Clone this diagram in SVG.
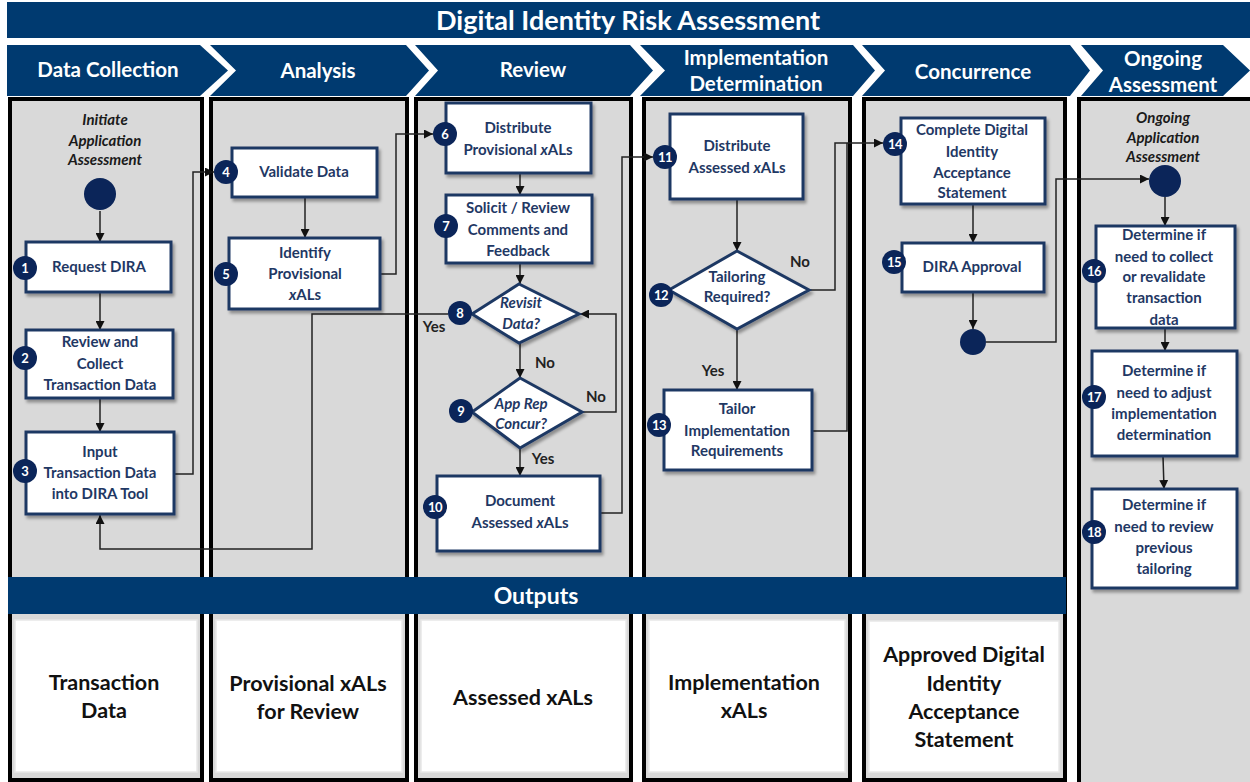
<svg xmlns="http://www.w3.org/2000/svg" width="1250" height="782" viewBox="0 0 1250 782">
<defs>
<style>
.bar{fill:#003A70}
.hd{font-family:Lato,"Liberation Sans",sans-serif;font-weight:700;fill:#fff;text-anchor:middle}
.lane{fill:#D9D9D9;stroke:#000;stroke-width:4}
.out{fill:#fff;stroke:#E8E8E8;stroke-width:1.5}
.ot{font-family:Lato,"Liberation Sans",sans-serif;font-weight:700;font-size:21.5px;fill:#111;text-anchor:middle}
.box{fill:#fff;stroke:#1F3864;stroke-width:3;filter:url(#sh)}
.nt{font-family:Lato,"Liberation Sans",sans-serif;font-weight:700;font-size:15px;fill:#1F3864;text-anchor:middle}
.it{font-style:italic}
.num{fill:#0B2559}
.nn{font-family:Lato,"Liberation Sans",sans-serif;font-weight:700;font-size:13px;fill:#fff;text-anchor:middle}
.lab{font-family:Lato,"Liberation Sans",sans-serif;font-weight:700;font-size:15px;fill:#222;text-anchor:middle}
.il{font-family:Lato,"Liberation Sans",sans-serif;font-weight:700;font-style:italic;font-size:15px;fill:#1a1a1a;text-anchor:middle}
.c{fill:none;stroke:#222;stroke-width:1.5}
.ca{fill:none;stroke:#222;stroke-width:1.5;marker-end:url(#ah)}
</style>
<filter id="sh" x="-10%" y="-10%" width="130%" height="130%">
<feDropShadow dx="2" dy="3" stdDeviation="1.5" flood-color="#000" flood-opacity="0.35"/>
</filter>
<marker id="ah" viewBox="0 0 10 10" refX="10" refY="5" markerWidth="9" markerHeight="9" markerUnits="userSpaceOnUse" orient="auto">
<path d="M0,0 L10,5 L0,10 z" fill="#111"/>
</marker>
</defs>

<!-- title -->
<rect class="bar" x="7" y="2" width="1243" height="36"/>
<text class="hd" x="628" y="30" font-size="27">Digital Identity Risk Assessment</text>

<!-- phase chevrons -->
<g id="phases">
<polygon class="bar" points="7,45 200,45 228,70.5 200,96 7,96"/>
<polygon class="bar" points="210,45 406,45 429,70.5 406,96 210,96 236,70.5"/>
<polygon class="bar" points="415,45 630,45 653,70.5 630,96 415,96 438,70.5"/>
<polygon class="bar" points="640,45 853,45 875,70.5 853,96 640,96 665,70.5"/>
<polygon class="bar" points="862,45 1070,45 1090,70.5 1070,96 862,96 885,70.5"/>
<polygon class="bar" points="1081,45 1223,45 1250,70.5 1223,96 1081,96 1103,70.5"/>
<text class="hd" x="108" y="77" font-size="20.5">Data Collection</text>
<text class="hd" x="318" y="78" font-size="20.5">Analysis</text>
<text class="hd" x="533" y="77" font-size="20.5">Review</text>
<text class="hd" x="756" y="65" font-size="20.5">Implementation</text>
<text class="hd" x="756" y="91" font-size="20.5">Determination</text>
<text class="hd" x="973" y="79" font-size="20.5">Concurrence</text>
<text class="hd" x="1163" y="66" font-size="20.5">Ongoing</text>
<text class="hd" x="1163" y="92" font-size="20.5">Assessment</text>
</g>

<!-- swimlanes -->
<g id="lanes">
<rect class="lane" x="10" y="99" width="192" height="681"/>
<rect class="lane" x="211" y="99" width="196" height="681"/>
<rect class="lane" x="416" y="99" width="215" height="681"/>
<rect class="lane" x="644" y="99" width="206" height="681"/>
<rect class="lane" x="864" y="99" width="201" height="681"/>
<path d="M1079,784 V99 H1254" fill="#D9D9D9" stroke="#000" stroke-width="4"/>
<rect x="1081" y="101" width="175" height="685" fill="#D9D9D9"/>
</g>

<!-- outputs -->
<g id="outputs">
<rect class="bar" x="8" y="577" width="1058" height="37"/>
<text class="hd" x="536" y="604" font-size="23">Outputs</text>
<rect class="out" x="15" y="620" width="182" height="152"/>
<rect class="out" x="216" y="620" width="186" height="152"/>
<rect class="out" x="421" y="620" width="205" height="152"/>
<rect class="out" x="649" y="620" width="196" height="152"/>
<rect class="out" x="869" y="621" width="190" height="151"/>
<text class="ot" x="104" y="690">Transaction</text>
<text class="ot" x="104" y="718">Data</text>
<text class="ot" x="308" y="691">Provisional xALs</text>
<text class="ot" x="308" y="719">for Review</text>
<text class="ot" x="523" y="705">Assessed xALs</text>
<text class="ot" x="744" y="690">Implementation</text>
<text class="ot" x="744" y="718">xALs</text>
<text class="ot" x="964" y="662">Approved Digital</text>
<text class="ot" x="964" y="691">Identity</text>
<text class="ot" x="964" y="719">Acceptance</text>
<text class="ot" x="964" y="747">Statement</text>
</g>

<!-- connectors -->
<g id="connectors">
<path class="ca" d="M100,211 V242"/>
<path class="ca" d="M100,292 V330"/>
<path class="ca" d="M100,398 V432"/>
<path class="ca" d="M174,474 H193 V172 H214"/>
<path class="ca" d="M305,197 V238"/>
<path class="ca" d="M380,274 H396 V134 H433"/>
<path class="ca" d="M520,173 V195"/>
<path class="ca" d="M520,263 V284"/>
<path class="ca" d="M448,314 H312 V549 H100 V515"/>
<path class="ca" d="M520,343 V378"/>
<path class="ca" d="M582,412 H616 V314 H580"/>
<path class="ca" d="M520,448 V476"/>
<path class="ca" d="M600,513 H622 V157 H653"/>
<path class="ca" d="M737,199 V251"/>
<path class="ca" d="M809,290 H835 V143 H883"/>
<path class="ca" d="M737,329 V390"/>
<path class="c" d="M812,431 H847 V143"/>
<path class="ca" d="M973,204 V243"/>
<path class="ca" d="M973,292 V329"/>
<path class="ca" d="M986,342 H1056 V179 H1149"/>
<path class="ca" d="M1165,197 V226"/>
<path class="ca" d="M1165,328 V351"/>
<path class="ca" d="M1163,456 L1164,489"/>
<text class="lab" x="434" y="332">Yes</text>
<text class="lab" x="545" y="368">No</text>
<text class="lab" x="596" y="402">No</text>
<text class="lab" x="543" y="464">Yes</text>
<text class="lab" x="800" y="267">No</text>
<text class="lab" x="713" y="376">Yes</text>
</g>

<!-- lane 1 -->
<g id="start1">
<text class="il" x="105" y="125">Initiate</text>
<text class="il" x="105" y="146">Application</text>
<text class="il" x="105" y="165">Assessment</text>
<circle class="num" cx="100" cy="194" r="16"/>
</g>
<g id="n1">
<rect class="box" x="26" y="242" width="145" height="50"/>
<text class="nt" x="99" y="272">Request DIRA</text>
<circle class="num" cx="25" cy="268" r="12"/><text class="nn" x="25" y="273">1</text>
</g>
<g id="n2">
<rect class="box" x="26" y="330" width="147" height="68"/>
<text class="nt" x="100" y="347">Review and</text>
<text class="nt" x="100" y="369">Collect</text>
<text class="nt" x="100" y="390">Transaction Data</text>
<circle class="num" cx="25" cy="358" r="12"/><text class="nn" x="25" y="363">2</text>
</g>
<g id="n3">
<rect class="box" x="26" y="432" width="148" height="82"/>
<text class="nt" x="100" y="457">Input</text>
<text class="nt" x="100" y="478">Transaction Data</text>
<text class="nt" x="100" y="499">into DIRA Tool</text>
<circle class="num" cx="25" cy="471" r="12"/><text class="nn" x="25" y="476">3</text>
</g>

<!-- lane 2 -->
<g id="n4">
<rect class="box" x="232" y="148" width="145" height="49"/>
<text class="nt" x="304" y="177">Validate Data</text>
<circle class="num" cx="226" cy="172" r="12"/><text class="nn" x="226" y="177">4</text>
</g>
<g id="n5">
<rect class="box" x="229" y="238" width="151" height="71"/>
<text class="nt" x="305" y="258">Identify</text>
<text class="nt" x="305" y="279">Provisional</text>
<text class="nt" x="305" y="300"><tspan class="it">x</tspan>ALs</text>
<circle class="num" cx="226" cy="274" r="12"/><text class="nn" x="226" y="279">5</text>
</g>

<!-- lane 3 -->
<g id="n6">
<rect class="box" x="446" y="103" width="145" height="70"/>
<text class="nt" x="518" y="133">Distribute</text>
<text class="nt" x="518" y="155">Provisional <tspan class="it">x</tspan>ALs</text>
<circle class="num" cx="445" cy="134" r="12"/><text class="nn" x="445" y="139">6</text>
</g>
<g id="n7">
<rect class="box" x="446" y="195" width="146" height="68"/>
<text class="nt" x="518" y="213">Solicit / Review</text>
<text class="nt" x="518" y="235">Comments and</text>
<text class="nt" x="518" y="256">Feedback</text>
<circle class="num" cx="446" cy="226" r="12"/><text class="nn" x="446" y="231">7</text>
</g>
<g id="n8">
<polygon class="box" points="519,284 579,314 519,343 472,314"/>
<text class="nt it" x="521" y="308">Revisit</text>
<text class="nt it" x="521" y="329">Data?</text>
<circle class="num" cx="460" cy="313" r="12"/><text class="nn" x="460" y="318">8</text>
</g>
<g id="n9">
<polygon class="box" points="520,378 582,412 520,448 472,412"/>
<text class="nt it" x="521" y="409">App Rep</text>
<text class="nt it" x="521" y="429">Concur?</text>
<circle class="num" cx="461" cy="411" r="12"/><text class="nn" x="461" y="416">9</text>
</g>
<g id="n10">
<rect class="box" x="437" y="476" width="163" height="75"/>
<text class="nt" x="520" y="506">Document</text>
<text class="nt" x="520" y="528">Assessed <tspan class="it">x</tspan>ALs</text>
<circle class="num" cx="435" cy="507" r="12"/><text class="nn" x="435" y="512" letter-spacing="-0.5">10</text>
</g>

<!-- lane 4 -->
<g id="n11">
<rect class="box" x="670" y="114" width="133" height="85"/>
<text class="nt" x="737" y="151">Distribute</text>
<text class="nt" x="737" y="173">Assessed <tspan class="it">x</tspan>ALs</text>
<circle class="num" cx="665" cy="157" r="12"/><text class="nn" x="665" y="162" letter-spacing="-0.5">11</text>
</g>
<g id="n12">
<polygon class="box" points="737,251 809,290 737,329 669,290"/>
<text class="nt" x="737" y="282">Tailoring</text>
<text class="nt" x="737" y="302">Required?</text>
<circle class="num" cx="661" cy="295" r="12"/><text class="nn" x="661" y="300" letter-spacing="-0.5">12</text>
</g>
<g id="n13">
<rect class="box" x="664" y="390" width="148" height="80"/>
<text class="nt" x="737" y="414">Tailor</text>
<text class="nt" x="737" y="436">Implementation</text>
<text class="nt" x="737" y="456">Requirements</text>
<circle class="num" cx="659" cy="425" r="12"/><text class="nn" x="659" y="430" letter-spacing="-0.5">13</text>
</g>

<!-- lane 5 -->
<g id="n14">
<rect class="box" x="901" y="118" width="144" height="86"/>
<text class="nt" x="972" y="135">Complete Digital</text>
<text class="nt" x="972" y="157">Identity</text>
<text class="nt" x="972" y="178">Acceptance</text>
<text class="nt" x="972" y="198">Statement</text>
<circle class="num" cx="895" cy="144" r="12"/><text class="nn" x="895" y="149" letter-spacing="-0.5">14</text>
</g>
<g id="n15">
<rect class="box" x="902" y="243" width="142" height="49"/>
<text class="nt" x="972" y="272">DIRA Approval</text>
<circle class="num" cx="894" cy="262" r="12"/><text class="nn" x="894" y="267" letter-spacing="-0.5">15</text>
</g>
<g id="end5">
<circle class="num" cx="973" cy="342" r="13"/>
</g>

<!-- lane 6 -->
<g id="start6">
<text class="il" x="1163" y="123">Ongoing</text>
<text class="il" x="1163" y="143">Application</text>
<text class="il" x="1163" y="162">Assessment</text>
<circle class="num" cx="1165" cy="181" r="16"/>
</g>
<g id="n16">
<rect class="box" x="1096" y="226" width="139" height="102"/>
<text class="nt" x="1164" y="240">Determine if</text>
<text class="nt" x="1164" y="262">need to collect</text>
<text class="nt" x="1164" y="282">or revalidate</text>
<text class="nt" x="1164" y="303">transaction</text>
<text class="nt" x="1164" y="325">data</text>
<circle class="num" cx="1094" cy="271" r="12"/><text class="nn" x="1094" y="276" letter-spacing="-0.5">16</text>
</g>
<g id="n17">
<rect class="box" x="1092" y="351" width="145" height="105"/>
<text class="nt" x="1164" y="376">Determine if</text>
<text class="nt" x="1164" y="398">need to adjust</text>
<text class="nt" x="1164" y="419">implementation</text>
<text class="nt" x="1164" y="440">determination</text>
<circle class="num" cx="1094" cy="397" r="12"/><text class="nn" x="1094" y="402" letter-spacing="-0.5">17</text>
</g>
<g id="n18">
<rect class="box" x="1092" y="489" width="145" height="99"/>
<text class="nt" x="1164" y="510">Determine if</text>
<text class="nt" x="1164" y="532">need to review</text>
<text class="nt" x="1164" y="553">previous</text>
<text class="nt" x="1164" y="574">tailoring</text>
<circle class="num" cx="1094" cy="532" r="12"/><text class="nn" x="1094" y="537" letter-spacing="-0.5">18</text>
</g>
</svg>
